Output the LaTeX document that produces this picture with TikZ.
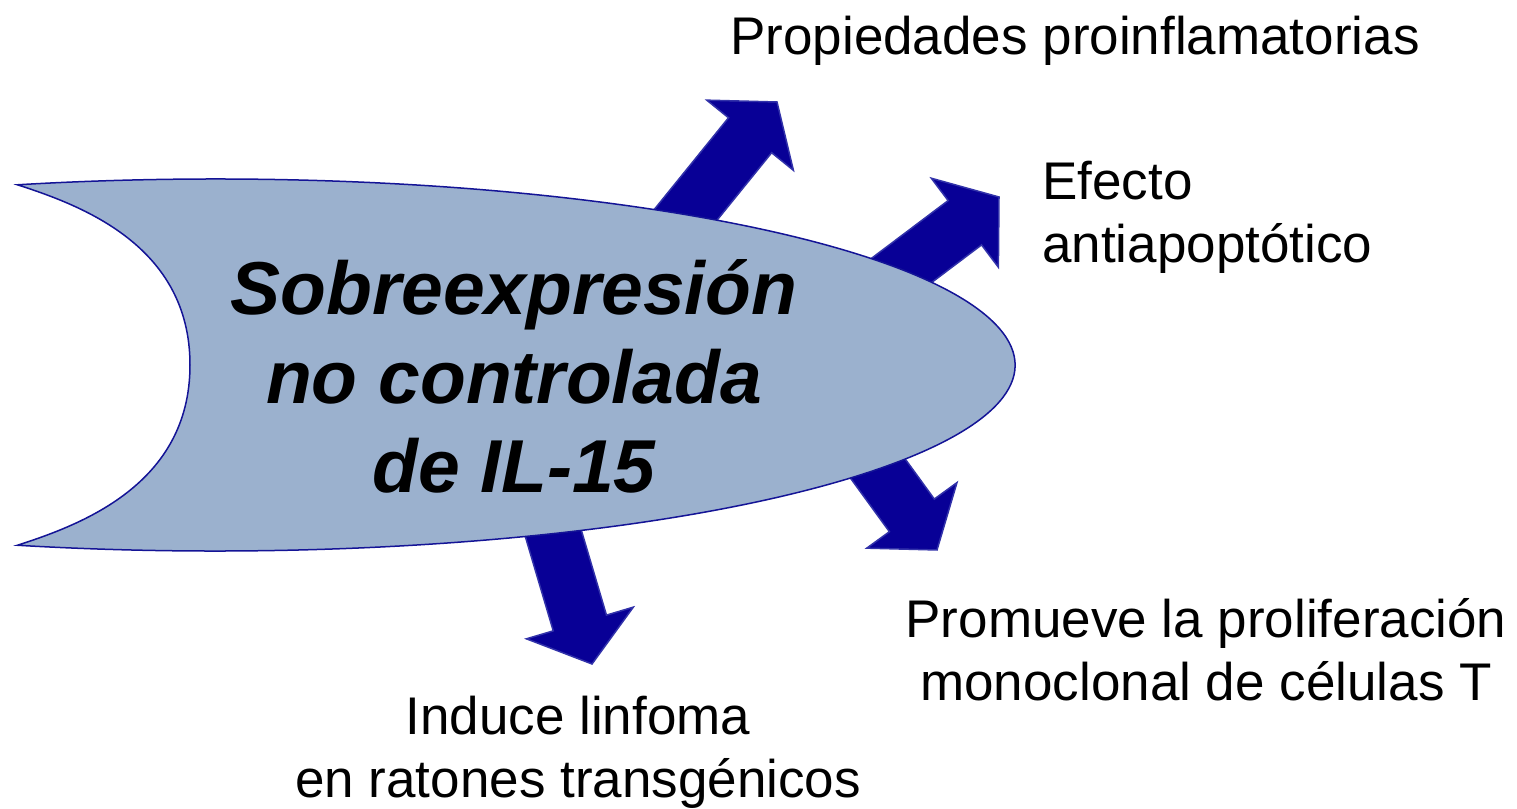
\documentclass[tikz,border=0pt]{standalone}
\usepackage{fontspec}
\setmainfont{Liberation Sans}
\usetikzlibrary{shapes.arrows}
\definecolor{blobfill}{RGB}{155,177,206}
\definecolor{blobedge}{RGB}{20,20,150}
\definecolor{arrowblue}{RGB}{8,0,150}
\definecolor{arrowedge}{RGB}{50,50,170}

\begin{document}
\begin{tikzpicture}[x=1pt, y=1pt,
  lbl/.style={inner sep=0pt, align=center, font=\fontsize{53}{63}\selectfont},
  bigarrow/.style={single arrow, draw=arrowedge, fill=arrowblue, line width=1.5pt,
                   inner xsep=0pt, inner ysep=27pt, outer sep=0pt,
                   single arrow head extend=28pt, single arrow tip angle=105,
                   minimum height=220pt, anchor=tip},
  blob/.style={draw=blobedge, fill=blobfill, line width=1.5pt}]
  \useasboundingbox (0,0) rectangle (1517,808);
  % flechas (debajo de la forma)
  \node[bigarrow, rotate=51]    (toprop) at (777,706) {};
  \node[bigarrow, rotate=37]    (toefec) at (999,611) {};
  \node[bigarrow, rotate=-54]   (toprom) at (937,258) {};
  \node[bigarrow, rotate=-73.5, minimum height=260pt] (toind) at (592,144) {};
  % forma central
  \draw[blob] (17.4,623.2) arc[start angle=104.3, end angle=-104.3, x radius=800, y radius=186]
    .. controls (80,283) and (190,323) .. (190,443)
    .. controls (190,563) and (80,603) .. cycle;
  \node[inner sep=0pt, align=center, font=\fontsize{75}{89}\selectfont\bfseries\itshape]
    (il15) at (514,431.5) {Sobreexpresión\\no controlada\\de IL-15};
  % efectos
  \node[lbl, anchor=base] (prop) at (1075,753) {Propiedades proinflamatorias};
  \node[lbl, align=left, anchor=west] (efec) at (1042,591) {Efecto\\antiapoptótico};
  \node[lbl] (prom) at (1206,158.4) {Promueve la proliferación\\monoclonal de células T};
  \node[lbl] (ind) at (578,56) {Induce linfoma\\en ratones transgénicos};
\end{tikzpicture}
\end{document}
